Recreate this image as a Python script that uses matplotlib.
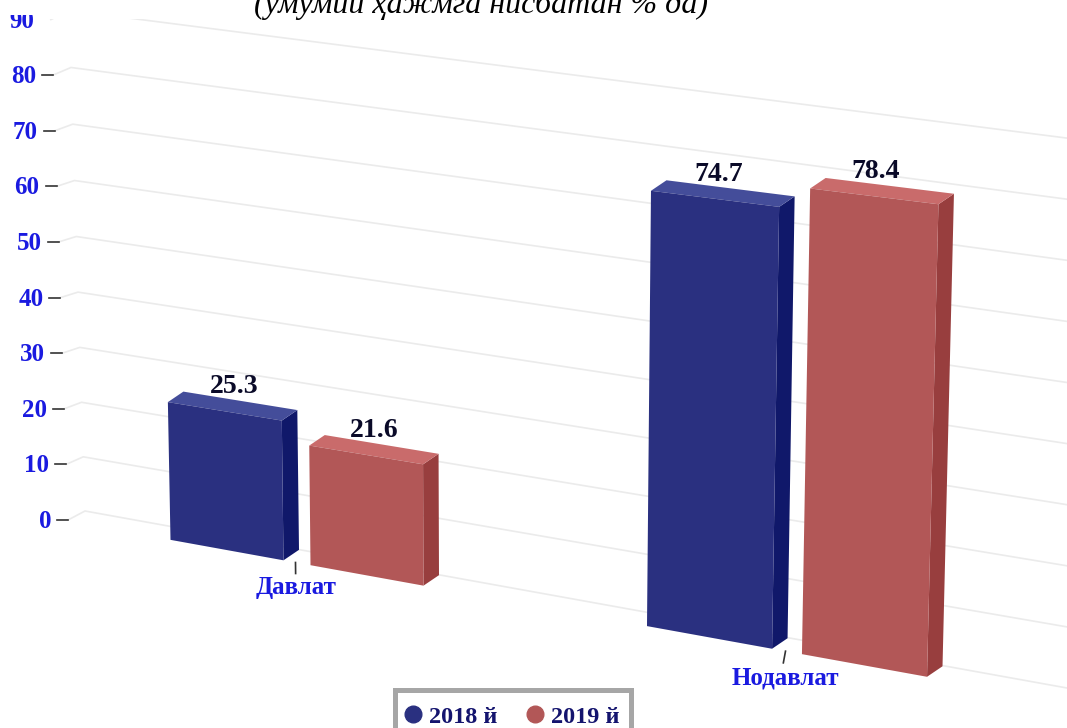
import numpy as np
import matplotlib
matplotlib.use("Agg")
import matplotlib.pyplot as plt
from matplotlib.lines import Line2D
from matplotlib.patches import Polygon, Rectangle

# data
categories = ["Давлат", "Нодавлат"]
series_names = ["2018 й", "2019 й"]
values_2018 = [25.3, 74.7]
values_2019 = [21.6, 78.4]
y_ticks = [0, 10, 20, 30, 40, 50, 60, 70, 80, 90]
title = "(умумий ҳажмга нисбатан % да)"

# colours: front, side, top
navy = ("#2a3080", "#10186a", "#444d9a")
red = ("#b25757", "#983e3e", "#c96b6b")
blue_text = "#1a1ae0"

cat_centers = [297, 787]
DEPTH = np.array([15.5, -10.5])


def project(x, v):
    # fake perspective of the front plane, x is the position on the floor
    k = 5.3 + 0.0007 * x + 0.001 * v
    return x + (-0.16 + 0.00033 * x) * v, 509 + 0.181 * x - k * v


def wall(u, v):
    # back wall, u runs from 0 (left edge) to 1 (right edge of the picture)
    xl, yl = 85 - 0.175 * v, 511 - 5.4 * v - 0.0018 * v ** 2
    xr, yr = 1067, 688 - 6.11 * v
    return xl + (xr - xl) * u, yl + (yr - yl) * u


def side(v):
    # end of the little tick at the left
    return 68 - 0.19 * v, 520 - 5.56 * v


def draw_bar(ax, x0, x1, v, colors):
    a, b = project(x0, 0), project(x1, 0)
    c, d = project(x1, v), project(x0, v)
    a, b, c, d = [np.array(p) for p in (a, b, c, d)]
    ax.add_patch(Polygon([b, b + DEPTH, c + DEPTH, c], fc=colors[1], ec="none", zorder=3))
    ax.add_patch(Polygon([d, c, c + DEPTH, d + DEPTH], fc=colors[2], ec="none", zorder=3))
    ax.add_patch(Polygon([a, b, c, d], fc=colors[0], ec="none", zorder=3))
    return (c + d) / 2


plt.rcParams["font.family"] = ["Liberation Serif", "DejaVu Serif"]
fig = plt.figure(figsize=(10.67, 7.28), dpi=100)
ax = fig.add_axes([0, 0, 1, 1])
ax.set_xlim(0, 1067)
ax.set_ylim(728, 0)
ax.axis("off")

# the top of the picture is cut away
grid_clip = Rectangle((0, 18.5), 1067, 711, transform=ax.transData)
tick_clip = Rectangle((0, 22), 1067, 711, transform=ax.transData)
label_clip = Rectangle((0, 15), 1067, 713, transform=ax.transData)

for v in y_ticks:
    xw0, yw0 = wall(0, v)
    xw1, yw1 = wall(1, v)
    xs, ys = side(v)
    l, = ax.plot([xs, xw0, xw1], [ys, yw0, yw1], color="#ebebeb", lw=1.2, zorder=1)
    l.set_clip_path(grid_clip)
    t, = ax.plot([xs - 11, xs], [ys, ys], color="#333333", lw=1.2, zorder=2)
    t.set_clip_path(tick_clip)
    txt = ax.text(xs - 17, ys + 1.5, str(v), color=blue_text, fontsize=18, fontweight="bold",
                  ha="right", va="center", zorder=4, clip_on=True)
    txt.set_clip_path(label_clip)

ax.text(481, 12.5, title, fontsize=23, style="italic", color="black", ha="center", va="baseline", zorder=5)

# bars
for c, cat, v18, v19 in zip(cat_centers, categories, values_2018, values_2019):
    s = 1 + (c - 297) * 0.000218
    gap, w = 13.5 * s, 113 * s
    for x0, x1, v, cols in [(c - gap - w, c - gap, v18, navy), (c + gap, c + gap + w, v19, red)]:
        m = draw_bar(ax, x0, x1, v, cols)
        ax.text(m[0] + 12 - 0.012 * m[0], m[1] - 24.5, f"{v}", fontsize=20, fontweight="bold", color="#0a0a28",
                ha="center", va="center", zorder=5)
    xt0, yt0 = project(c - 1.5, 0)
    xt1, yt1 = project(c - 1.5, -2)
    ax.plot([xt0, xt1 - (c - 297) * 0.004], [yt0, yt1], color="#333333", lw=1.2, zorder=2)
    xl, yl = project(c, -4.55)
    ax.text(xl - 1, yl, cat, fontsize=18, fontweight="bold", color=blue_text, ha="center", va="center", zorder=5)

# legend, the frame runs off the bottom of the picture
ax.add_patch(Rectangle((394.5, 689.5), 236, 70, fc="white", ec="#a6a6a6", lw=3.6, zorder=5))
handles = [Line2D([], [], ls="none", marker="o", ms=12, color=navy[0]),
           Line2D([], [], ls="none", marker="o", ms=12, color=red[0])]
leg = ax.legend(handles, series_names, ncol=2, loc="upper left", bbox_to_anchor=(402, 705.5),
                bbox_transform=ax.transData, frameon=False, borderpad=0, borderaxespad=0,
                handlelength=0.9, handletextpad=0.22, columnspacing=1.07,
                labelcolor="#14146e", prop={"weight": "bold", "size": 17.5})
leg.set_zorder(6)

fig.savefig("out.png", dpi=100)
